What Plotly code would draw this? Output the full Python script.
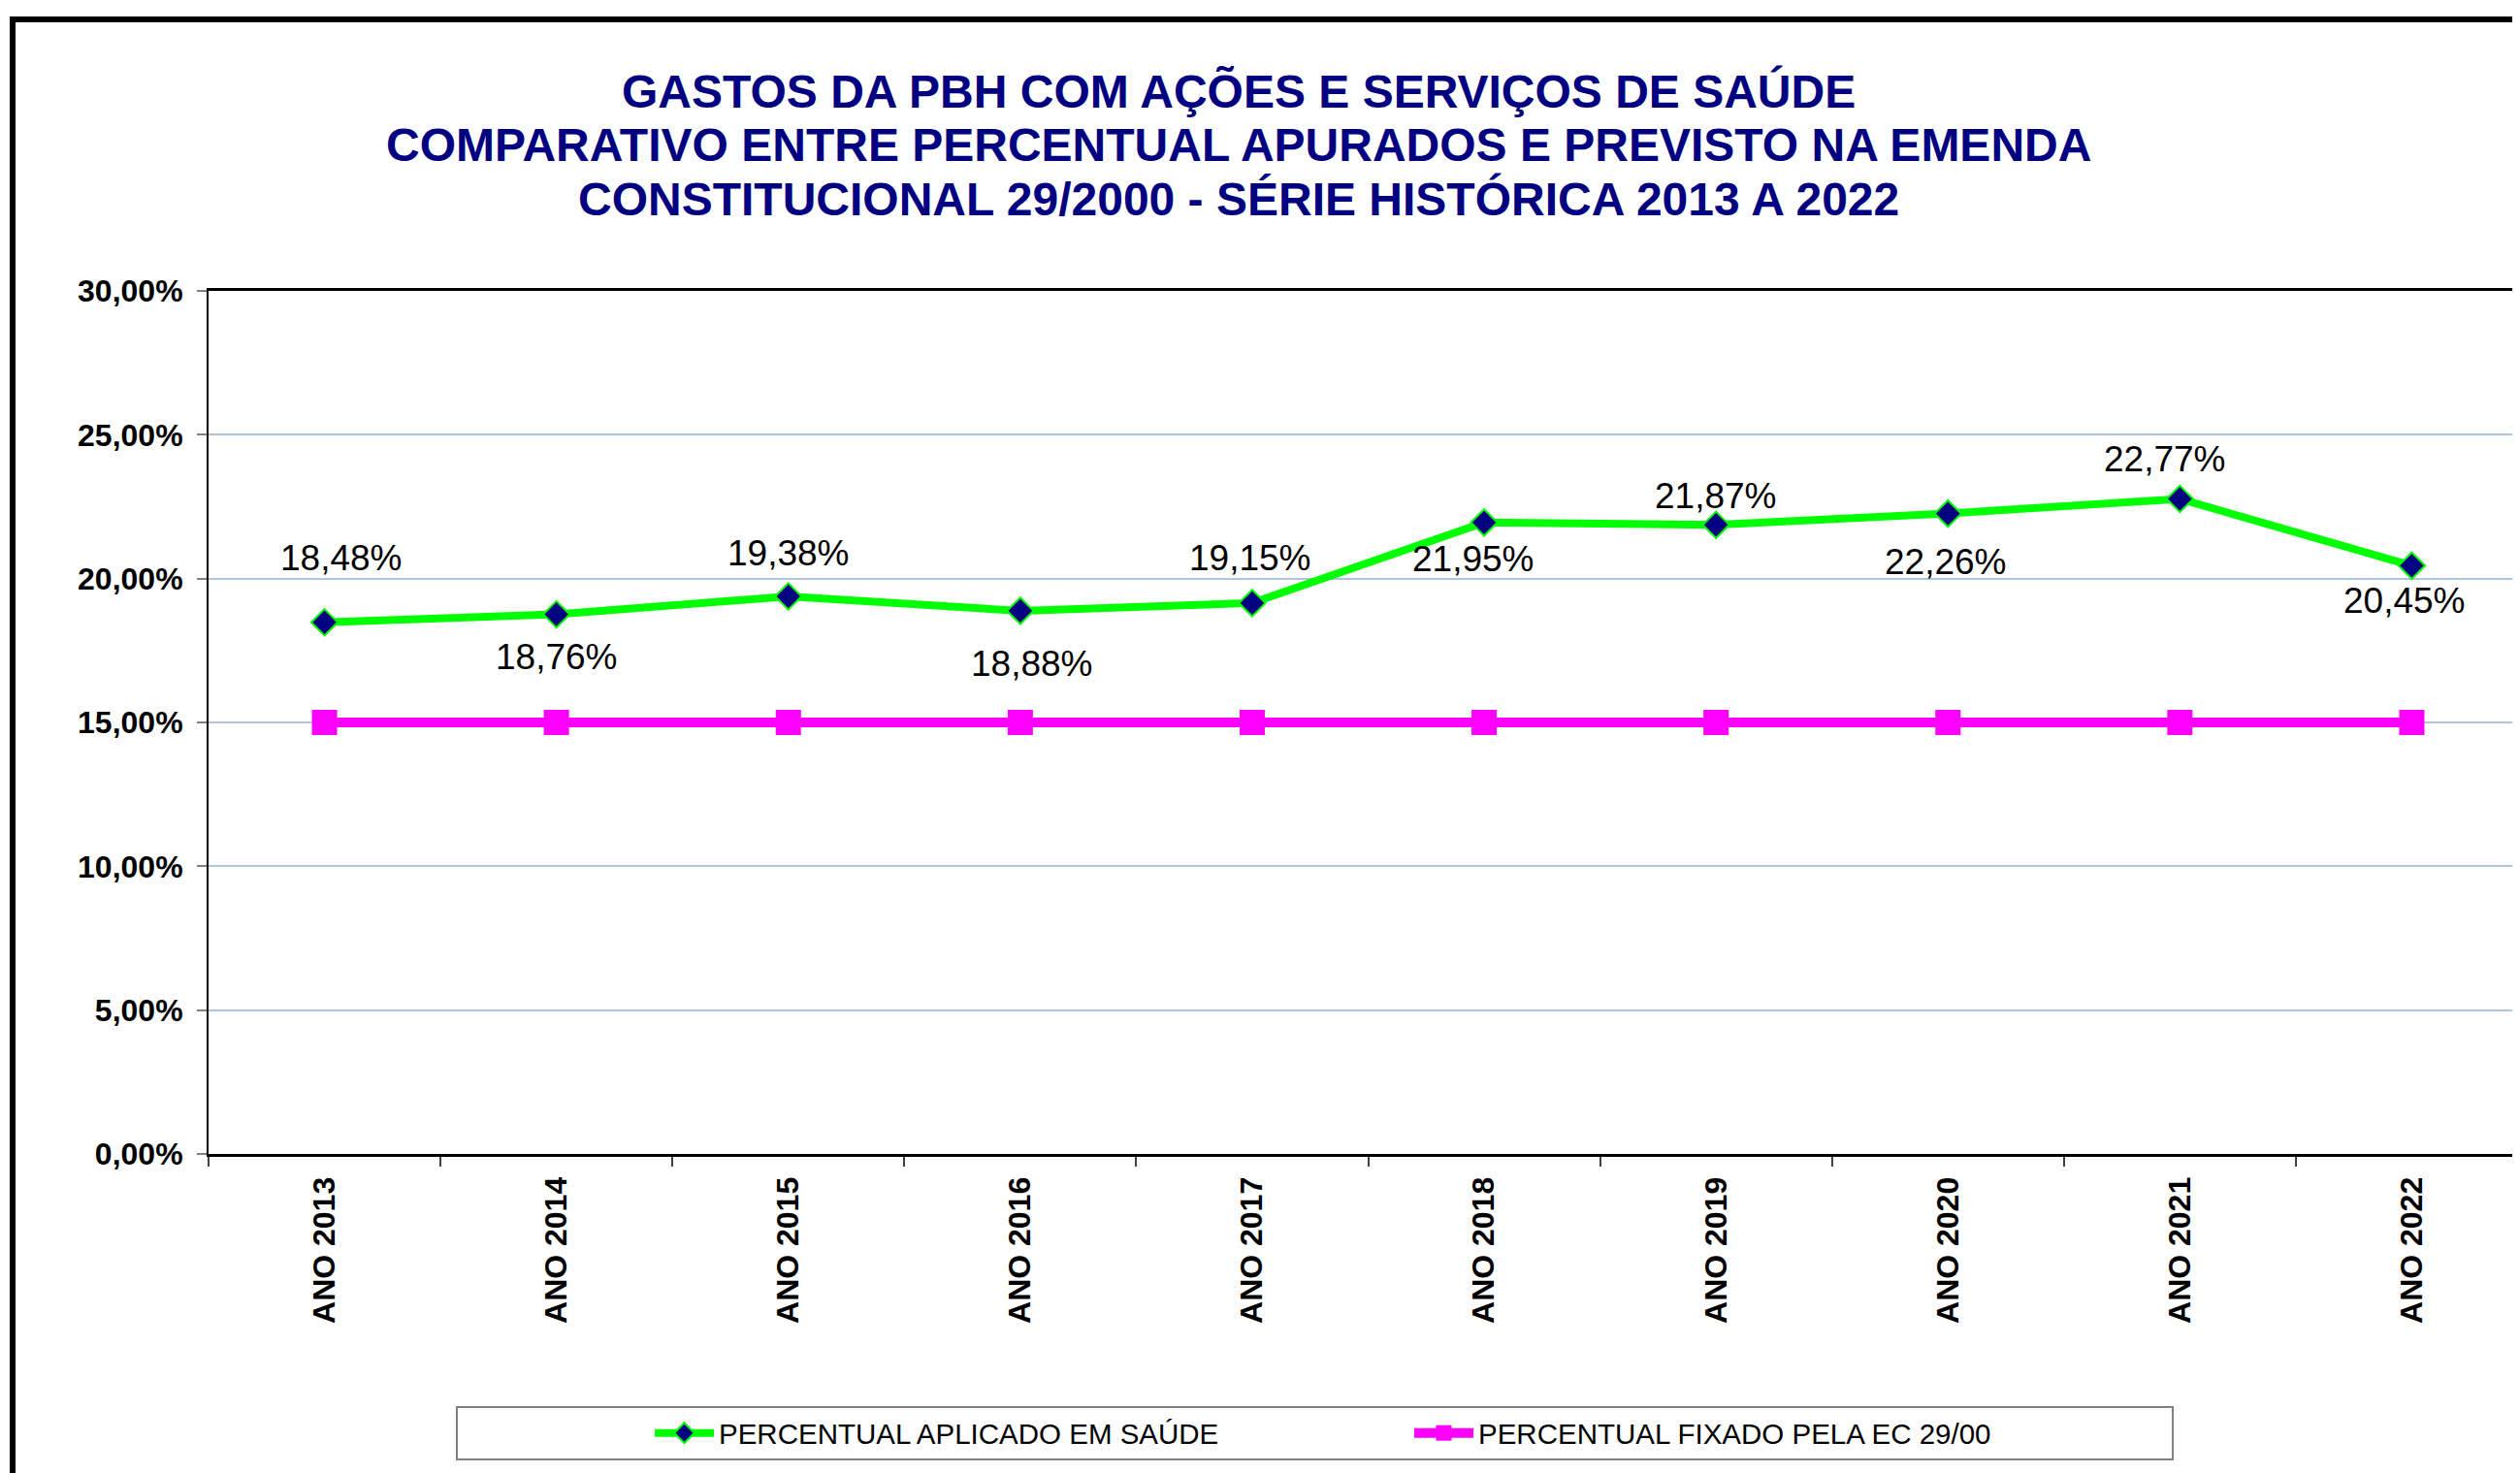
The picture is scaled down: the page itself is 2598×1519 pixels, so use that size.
import plotly.graph_objects as go

categories = ["ANO 2013", "ANO 2014", "ANO 2015", "ANO 2016", "ANO 2017",
              "ANO 2018", "ANO 2019", "ANO 2020", "ANO 2021", "ANO 2022"]
aplicado = [18.48, 18.76, 19.38, 18.88, 19.15, 21.95, 21.87, 22.26, 22.77, 20.45]
fixado = [15.00] * 10

name_aplicado = "PERCENTUAL APLICADO EM SAÚDE"
name_fixado = "PERCENTUAL FIXADO PELA EC 29/00"
title_lines = ["GASTOS DA PBH COM AÇÕES E SERVIÇOS DE SAÚDE",
               "COMPARATIVO ENTRE PERCENTUAL APURADOS E PREVISTO NA EMENDA",
               "CONSTITUCIONAL 29/2000 - SÉRIE HISTÓRICA 2013 A 2022"]

# label offsets (pixels) relative to each point
label_dx = [17, 0, 0, 12, -2, -11, 0, -2, -15, -7]
label_dy = [66, -44, 45, -55, 46, -38, 30, -50, 41, -36]

FONT = "Liberation Sans, Arial, sans-serif"
W, H = 2598, 1519
OFF = 8  # page body margin
L, T, B = 215 - OFF, 300 - OFF, 1190 - OFF


def px_x(p):
    return (p - OFF - L) / (W - L)


def px_y(p):
    return (B - (p - OFF)) / (B - T)


fig = go.Figure()
fig.add_trace(go.Scatter(
    x=categories, y=aplicado, name=name_aplicado, mode="lines+markers",
    line=dict(color="#00FF00", width=8),
    marker=dict(symbol="diamond", size=21, color="#000080",
                line=dict(color="#00FF00", width=2)),
))
fig.add_trace(go.Scatter(
    x=categories, y=fixado, name=name_fixado, mode="lines+markers",
    line=dict(color="#FF00FF", width=10),
    marker=dict(symbol="square", size=26, color="#FF00FF"),
))

annotations = []
for i, (c, v) in enumerate(zip(categories, aplicado)):
    annotations.append(dict(
        x=c, y=v, xref="x", yref="y", text=f"{v:.2f}%".replace(".", ","),
        showarrow=False, xshift=label_dx[i], yshift=label_dy[i],
        font=dict(family=FONT, size=37, color="black"),
        xanchor="center", yanchor="middle"))

title_y_px = [94, 149, 205]
for line, ypx in zip(title_lines, title_y_px):
    annotations.append(dict(
        x=px_x(1277), y=px_y(ypx), xref="paper", yref="paper", text=f"<b>{line}</b>",
        showarrow=False, xanchor="center", yanchor="middle",
        font=dict(family=FONT, size=48, color="#000080")))

shapes = [
    # outer chart frame
    dict(type="rect", xref="paper", yref="paper",
         x0=px_x(13), x1=px_x(2700), y0=px_y(1600), y1=px_y(20),
         line=dict(color="black", width=6), layer="below"),
    # legend box
    dict(type="rect", xref="paper", yref="paper",
         x0=px_x(471), x1=px_x(2240), y0=px_y(1505), y1=px_y(1451),
         line=dict(color="#808080", width=2), fillcolor="white", layer="below"),
]

fig.update_layout(
    width=W, height=H,
    margin=dict(l=L, r=0, t=T, b=H - B, pad=0),
    paper_bgcolor="white", plot_bgcolor="white",
    separators=",.",
    font=dict(family=FONT, color="black"),
    showlegend=True,
    legend=dict(orientation="h", x=px_x(670), y=px_y(1478),
                xanchor="left", yanchor="middle",
                bgcolor="rgba(0,0,0,0)", borderwidth=0,
                font=dict(family=FONT, size=29.5, color="black"),
                entrywidth=707, entrywidthmode="pixels", itemwidth=61),
    annotations=annotations,
    shapes=shapes,
)

fig.update_xaxes(
    type="category", range=[-0.5, 9.5],
    showline=True, linecolor="black", linewidth=3, mirror=True,
    showgrid=False, ticks="outside", tickson="boundaries", ticklen=10,
    tickcolor="#404040", tickwidth=1.5, tickangle=-90,
    tickfont=dict(family=FONT, size=32, color="black", weight="bold"),
    ticklabelstandoff=8,
)
fig.update_yaxes(
    range=[0, 30], dtick=5, tick0=0, tickformat=".2f", ticksuffix="%",
    showline=True, linecolor="black", linewidth=2,
    showgrid=True, gridcolor="#B0C4DE", gridwidth=1.5, zeroline=False,
    ticks="outside", ticklen=10, tickcolor="#808080", tickwidth=1.5,
    tickfont=dict(family=FONT, size=32, color="black", weight="bold"),
    ticklabelstandoff=8,
)

fig.write_html("out.html")
